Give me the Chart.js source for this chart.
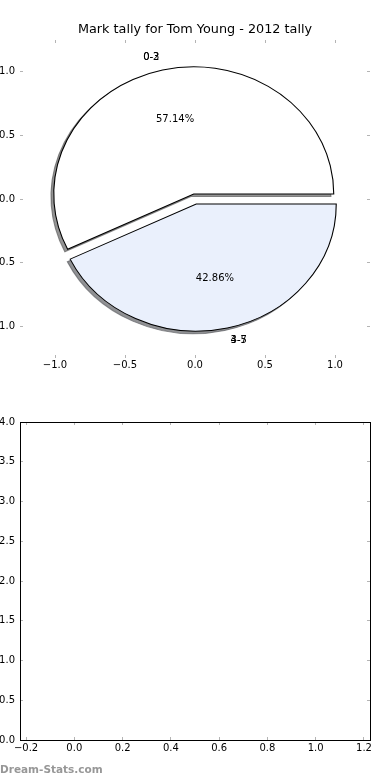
<!DOCTYPE html>
<html>
<head>
<meta charset="utf-8">
<script src="https://cdn.jsdelivr.net/npm/chart.js"></script>
<style>
html,body{margin:0;padding:0;background:#fff;width:390px;height:780px;overflow:hidden;}
canvas{position:absolute;display:block;}
#wm{position:absolute;left:0;top:763px;font:bold 10.5px "DejaVu Sans";color:#979797;white-space:nowrap;}
</style>
</head>
<body>
<canvas id="topAxes" width="390" height="390" style="left:0;top:0;width:390px;height:390px"></canvas>
<canvas id="pieShadow" width="350" height="318" style="left:20px;top:40px;width:350px;height:318px"></canvas>
<canvas id="pieMain" width="350" height="318" style="left:20px;top:40px;width:350px;height:318px"></canvas>
<canvas id="bottomAxes" width="390" height="390" style="left:0;top:390px;width:390px;height:390px"></canvas>
<div id="wm">Dream-Stats.com</div>
<script>
// ---------- data ----------
const categories = ['0-2', '3-5'];
const categoriesOverlay = ['0-3', '4-7'];
const tallies = [4, 3];
const sliceColors = ['#ffffff', '#eaf0fc'];

const pieTitle = 'Mark tally for Tom Young - 2012 tally';
const topXTicks = [-1.0, -0.5, 0.0, 0.5, 1.0];
const topYTicks = [-1.0, -0.5, 0.0, 0.5, 1.0];
const bottomXTicks = [-0.2, 0.0, 0.2, 0.4, 0.6, 0.8, 1.0, 1.2];
const bottomYTicks = [0.0, 0.5, 1.0, 1.5, 2.0, 2.5, 3.0, 3.5, 4.0];

// ---------- style constants ----------
const FONT = 'DejaVu Sans';
const TICK_COLOR = '#b4b4b4';
const EXPLODE = 0.04;          // in radius units
const R_PX = 127.2;            // vertical pixels per data unit (pie radius 1)
const X_PX = 140;              // horizontal pixels per data unit
const SX = X_PX / R_PX;
const SHADOW_DX = -0.02 * X_PX, SHADOW_DY = 0.02 * R_PX;

Chart.defaults.font.family = FONT;
Chart.defaults.color = '#000';

const fmt = v => (Math.abs(v) < 1e-9 ? '0.0' : v.toFixed(1).replace('-', '\u2212'));

function axis(pos, min, max, ticks, showLabels, size, pad, border) {
  return {
    type: 'linear', position: pos, min: min, max: max,
    afterBuildTicks: s => { s.ticks = ticks.map(v => ({ value: v })); },
    afterFit: s => { if (pos === 'left' || pos === 'right') s.width = size; else s.height = size; },
    grid: { display: true, drawOnChartArea: false, drawTicks: true, tickLength: -3, tickWidth: 1, color: TICK_COLOR, tickColor: TICK_COLOR },
    border: { display: border, color: '#000', width: 1 },
    ticks: { display: showLabels, autoSkip: false, maxRotation: 0, padding: pad, font: { family: FONT, size: 10 }, color: '#000', callback: v => fmt(v) }
  };
}

// ---------- top axes (pie frame) ----------
new Chart(document.getElementById('topAxes'), {
  type: 'scatter',
  data: { datasets: [] },
  options: {
    responsive: false, animation: false, devicePixelRatio: 1, events: [],
    layout: { padding: 0 },
    plugins: {
      legend: { display: false }, tooltip: { enabled: false },
      title: { display: true, text: pieTitle, color: '#000', font: { family: FONT, size: 12.8, weight: 'normal', lineHeight: 1.2 }, padding: { top: 22, bottom: 2.64 } }
    },
    scales: {
      x: axis('bottom', -1.25, 1.25, topXTicks, true, 32, 4, false),
      x2: axis('top', -1.25, 1.25, topXTicks, false, 0, 0, false),
      y: axis('left', -1.25, 1.25, topYTicks, true, 20, 8, false),
      y2: axis('right', -1.25, 1.25, topYTicks, false, 20, 0, false)
    }
  }
});

// ---------- pie ----------
const drawOrder = tallies.map((_, i) => tallies.length - 1 - i); // matplotlib goes CCW from 3 o'clock
const total = tallies.reduce((a, b) => a + b, 0);

function explodedPiePlugin(dx, dy) {
  return {
    id: 'explodedPie',
    beforeDatasetDraw(chart, args) {
      const ctx = chart.ctx, a = chart.chartArea;
      const cx = (a.left + a.right) / 2, cy = (a.top + a.bottom) / 2;
      args.meta.data.forEach(arc => {
        const mid = (arc.startAngle + arc.endAngle) / 2;
        ctx.save();
        ctx.translate(cx + dx, cy + dy);
        ctx.scale(SX, 1);
        ctx.translate(-cx, -cy);
        ctx.translate(Math.cos(mid) * EXPLODE * R_PX, Math.sin(mid) * EXPLODE * R_PX);
        arc.draw(ctx);
        ctx.restore();
      });
      return false;
    }
  };
}

const labelPlugin = {
  id: 'pieLabels',
  afterDraw(chart) {
    const ctx = chart.ctx, a = chart.chartArea;
    const cx = (a.left + a.right) / 2;
    const meta = chart.getDatasetMeta(0);
    ctx.save();
    ctx.font = '10px "' + FONT + '"';
    ctx.fillStyle = '#000';
    ctx.textBaseline = 'middle';
    meta.data.forEach((arc, j) => {
      const i = drawOrder[j];
      const mid = (arc.startAngle + arc.endAngle) / 2;
      const R = arc.outerRadius;
      const place = f => {
        const d = EXPLODE * R + f * R;
        return [cx + (arc.x + Math.cos(mid) * d - cx) * SX, arc.y + Math.sin(mid) * d];
      };
      const [lx, ly] = place(1.1);
      ctx.textAlign = Math.cos(mid) < 0 ? 'right' : 'left';
      ctx.fillText(categories[i], lx, ly);
      ctx.fillText(categoriesOverlay[i], lx, ly);
      const [px, py] = place(0.6);
      ctx.textAlign = 'center';
      ctx.fillText((tallies[i] / total * 100).toFixed(2) + '%', px, py);
    });
    ctx.restore();
  }
};

function pieConfig(colors, borders, plugins) {
  return {
    type: 'pie',
    data: {
      labels: drawOrder.map(i => categories[i]),
      datasets: [{
        data: drawOrder.map(i => tallies[i]),
        backgroundColor: drawOrder.map(i => colors[i]),
        borderColor: drawOrder.map(i => borders[i]),
        borderWidth: 1,
        borderJoinStyle: 'miter',
        radius: R_PX,
        rotation: 90
      }]
    },
    options: {
      responsive: false, animation: false, devicePixelRatio: 1, events: [],
      layout: { padding: 0 },
      plugins: { legend: { display: false }, tooltip: { enabled: false }, title: { display: false } }
    },
    plugins: plugins
  };
}

const shadowFill = sliceColors.map(c => {
  const n = parseInt(c.slice(1), 16);
  const r = ((n >> 16) & 255) * 0.3, g = ((n >> 8) & 255) * 0.3, b = (n & 255) * 0.3;
  return 'rgba(' + r.toFixed(0) + ',' + g.toFixed(0) + ',' + b.toFixed(0) + ',0.6)';
});
new Chart(document.getElementById('pieShadow'), pieConfig(shadowFill, shadowFill, [explodedPiePlugin(SHADOW_DX, SHADOW_DY)]));
new Chart(document.getElementById('pieMain'), pieConfig(sliceColors, sliceColors.map(() => '#000'), [explodedPiePlugin(0, 0), labelPlugin]));

// ---------- bottom empty axes ----------
new Chart(document.getElementById('bottomAxes'), {
  type: 'scatter',
  data: { datasets: [] },
  options: {
    responsive: false, animation: false, devicePixelRatio: 1, events: [],
    layout: { padding: 0 },
    plugins: { legend: { display: false }, tooltip: { enabled: false } },
    scales: {
      x: axis('bottom', -0.225, 1.225, bottomXTicks, true, 40, 5, true),
      x2: axis('top', -0.225, 1.225, bottomXTicks, false, 32, 0, true),
      y: axis('left', 0, 4, bottomYTicks, true, 20, 8, true),
      y2: axis('right', 0, 4, bottomYTicks, false, 20, 0, true)
    }
  }
});
</script>
</body>
</html>
